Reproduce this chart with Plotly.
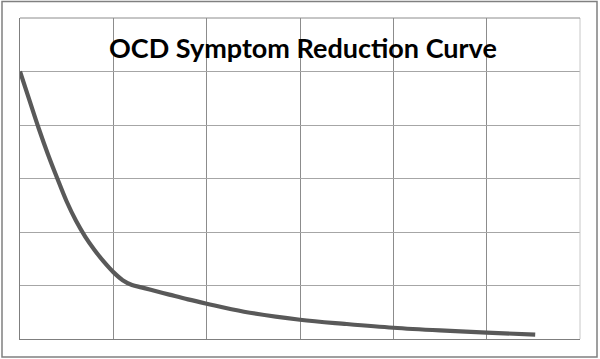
import plotly.graph_objects as go

# Data (arbitrary units)
time_x = [0, 0.1, 0.2, 0.3, 0.4, 0.5, 0.6, 0.7, 0.8, 0.9, 1.0, 1.1, 1.2, 1.3, 1.4,
          1.6, 1.8, 2.0, 2.4, 3.0, 3.5, 4.0, 4.5, 5.0, 5.52]
symptoms_y = [5.0, 4.47, 3.94, 3.45, 3.0, 2.57, 2.21, 1.91, 1.66, 1.44, 1.25, 1.1, 1.01, 0.965, 0.92,
              0.83, 0.74, 0.66, 0.51, 0.36, 0.28, 0.21, 0.16, 0.12, 0.08]
title_text = "OCD Symptom Reduction Curve"

W, H = 600, 359
ml, mr, mt, mb = 20, 20, 18, 20
pw, ph = W - ml - mr, H - mt - mb

fig = go.Figure()
fig.add_trace(go.Scatter(
    x=time_x, y=symptoms_y, mode="lines",
    line=dict(color="#595959", width=4.2, shape="spline", smoothing=1.0),
    hoverinfo="skip", showlegend=False,
))

fig.update_layout(
    width=W, height=H,
    margin=dict(l=ml, r=mr, t=mt, b=mb),
    paper_bgcolor="white", plot_bgcolor="white",
    showlegend=False,
    xaxis=dict(range=[0, 6], dtick=1, showticklabels=False, ticks="",
               showgrid=True, gridcolor="#8c8c8c", gridwidth=1,
               zeroline=False, showline=True, linecolor="#7f7f7f", linewidth=1,
               mirror=False, fixedrange=True),
    yaxis=dict(range=[0, 6], dtick=1, showticklabels=False, ticks="",
               showgrid=True, gridcolor="#a6a6a6", gridwidth=1,
               zeroline=False, showline=True, linecolor="#7f7f7f", linewidth=1,
               mirror=False, fixedrange=True),
    annotations=[dict(
        text="<b>" + title_text + "</b>", xref="paper", yref="paper",
        x=0.506, y=(H - 47 - mb) / ph, xanchor="center", yanchor="middle",
        showarrow=False, font=dict(family="Lato, Open Sans, sans-serif", size=27, color="black"),
    )],
    shapes=[
        # right and top plot border
        dict(type="line", xref="paper", yref="paper", x0=1, x1=1, y0=0, y1=1,
             line=dict(color="#c8c8c8", width=1)),
        dict(type="line", xref="paper", yref="paper", x0=0, x1=1, y0=1, y1=1,
             line=dict(color="#8c8c8c", width=1)),
        # outer chart border
        dict(type="rect", xref="paper", yref="paper",
             x0=(2 - ml) / pw, x1=(597 - ml) / pw,
             y0=-(357 - (H - mb)) / ph, y1=1 + (mt - 1.5) / ph,
             line=dict(color="#808080", width=1.5), layer="below"),
    ],
)

fig.write_html("out.html", config={"displayModeBar": False},
               post_script="document.body.style.margin='0';document.body.style.padding='0';")
